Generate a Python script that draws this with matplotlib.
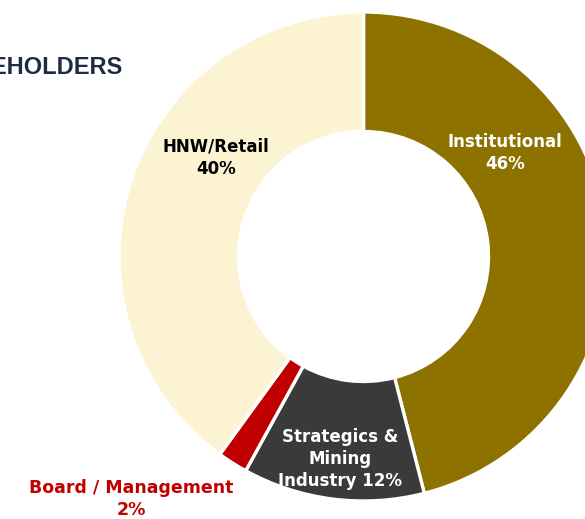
import matplotlib.pyplot as plt

# shareholder breakdown (%)
groups = ["Institutional", "Strategics & Mining Industry", "Board / Management", "HNW/Retail"]
shares = [46, 12, 2, 40]
colors = ["#8E7200", "#3A3A3A", "#C00000", "#FCF3D3"]

W, H = 585, 519
fig = plt.figure(figsize=(W / 100, H / 100), dpi=100)
ax = fig.add_axes([0, 0, 1, 1])

cx, cy = 363.5, H - 256.5
r_out, r_in = 244.5, 125
ax.pie(shares, colors=colors, startangle=90, counterclock=False,
       center=(cx, cy), radius=r_out, frame=True,
       wedgeprops=dict(width=r_out - r_in, edgecolor="white", linewidth=2.4))
ax.set_xlim(0, W)
ax.set_ylim(0, H)
ax.set_aspect("equal")
ax.axis("off")


def label(x, y, s, color, size=12):
    ax.text(x, H - y, s, ha="center", va="center", color=color,
            fontsize=size, fontweight="bold", family="DejaVu Sans",
            linespacing=1.3)


label(505, 153, "Institutional\n46%", "white")
label(216, 158, "HNW/Retail\n40%", "black")
label(340, 459, "Strategics &\nMining\nIndustry 12%", "white")
label(131, 499, "Board / Management\n2%", "#C00000", 12.5)

# title, cut off at the left edge in the source slide
ax.text(123, H - 67, "SHAREHOLDERS", ha="right", va="center", color="#1F2A44",
        fontsize=17, fontweight="bold", family="Liberation Sans")

fig.savefig("out.png", dpi=100)
